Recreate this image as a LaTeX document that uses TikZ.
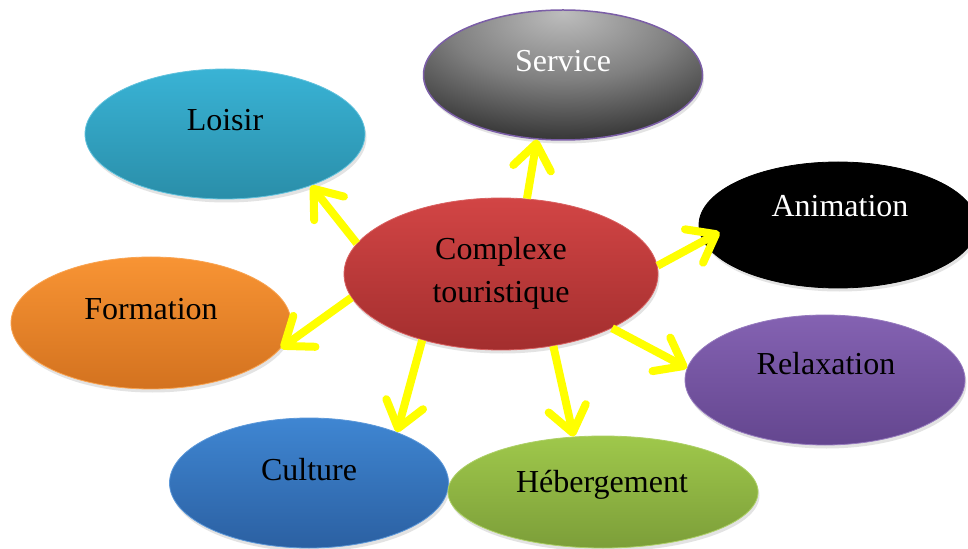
\documentclass[tikz,border=0pt]{standalone}
\usepackage{fontspec}
\setmainfont{Liberation Serif}
\usetikzlibrary{arrows.meta,shadows,shapes.geometric}
\definecolor{loiT}{HTML}{39B3D5}
\definecolor{loiB}{HTML}{2A8EA9}
\definecolor{frmT}{HTML}{F89434}
\definecolor{frmB}{HTML}{D3721F}
\definecolor{cpxT}{HTML}{D24545}
\definecolor{cpxB}{HTML}{A32E2E}
\definecolor{hebT}{HTML}{9FC84B}
\definecolor{hebB}{HTML}{7C9E39}
\definecolor{rlxT}{HTML}{8462B2}
\definecolor{rlxB}{HTML}{64468F}
\definecolor{culT}{HTML}{3F86D2}
\definecolor{culB}{HTML}{2B60A2}
\definecolor{srvLine}{HTML}{7B5EA7}
\definecolor{arrY}{HTML}{FFFF00}
\pgfdeclareradialshading{servshade}{\pgfpoint{0bp}{24bp}}{rgb(0bp)=(0.74,0.74,0.74); rgb(20bp)=(0.50,0.50,0.50); rgb(36bp)=(0.24,0.24,0.24); rgb(50bp)=(0.06,0.06,0.06); rgb(80bp)=(0.02,0.02,0.02)}
\tikzset{
  bub/.style={ellipse, inner sep=0pt, line width=0.8bp,
    drop shadow={opacity=0.22, shadow xshift=1.5bp, shadow yshift=-3.5bp}},
  lab/.style={anchor=base, inner sep=0pt, font=\fontsize{32bp}{44bp}\selectfont},
  arr/.style={draw=arrY, line width=8bp, line cap=butt,
    -{Straight Barb[length=25bp,width=38bp,round]}}
}
\begin{document}
\begin{tikzpicture}[x=1bp,y=-1bp]
\fill[white] (0,0) rectangle (968,549);
\useasboundingbox (0,0) rectangle (968,549);
% bubbles
\node[bub, minimum width=279bp, minimum height=130bp, shading=servshade, draw=srvLine, line width=1.5bp] (srv) at (563,75) {};
\node[bub, minimum width=280bp, minimum height=130bp, top color=loiT, bottom color=loiB, draw=loiT!80!white] (loi) at (225,134) {};
\node[bub, minimum width=278bp, minimum height=126bp, fill=black, draw=black] (ani) at (838,225) {};
\node[bub, minimum width=280bp, minimum height=132bp, top color=frmT, bottom color=frmB, draw=frmT!85!white] (frm) at (151,323) {};
\node[bub, minimum width=280bp, minimum height=130bp, top color=rlxT, bottom color=rlxB, draw=rlxT!85!white] (rlx) at (825,380) {};
\node[bub, minimum width=279bp, minimum height=130bp, top color=culT, bottom color=culB, draw=culT!85!white] (cul) at (309,483) {};
\node[bub, minimum width=310bp, minimum height=112bp, top color=hebT, bottom color=hebB, draw=hebT!85!white] (heb) at (603,492) {};
\node[bub, minimum width=314bp, minimum height=152bp, top color=cpxT, bottom color=cpxB, draw=cpxT!85!white] (cpx) at (501,274) {};
% labels
\node[lab, text=white] (tsrv) at (563,72) {Service};
\node[lab] (tloi) at (225,131) {Loisir};
\node[lab, text=white] (tani) at (840,217) {Animation};
\node[lab] (tfrm) at (151,320) {Formation};
\node[lab] (tcpx1) at (501,260) {Complexe};
\node[lab] (tcpx2) at (501,303) {touristique};
\node[lab] (trlx) at (826,375) {Relaxation};
\node[lab] (tcul) at (309,480) {Culture};
\node[lab] (theb) at (602,492) {Hébergement};
% arrows
\draw[arr] (cpx.71.6) -- (srv.-112.7);
\draw[arr] (cpx.168.6) -- (loi.-31.5);
\draw[arr] (cpx.3.5) -- ([xshift=20bp]ani.-177.1);
\draw[arr] (cpx.-171.5) -- (frm.-11.4);
\draw[arr] (cpx.-26.6) -- (rlx.175.4);
\draw[arr] (cpx.-140.6) -- (cul.30.6);
\draw[arr] (cpx.-54.7) -- (heb.118.6);
\end{tikzpicture}
\end{document}
